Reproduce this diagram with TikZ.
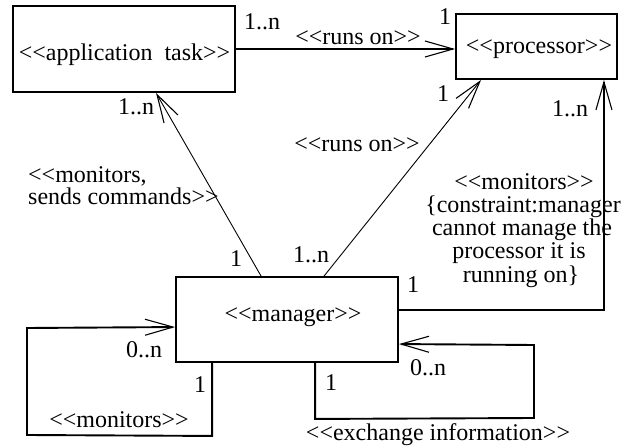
\documentclass[tikz,border=0pt]{standalone}
\usepackage{fontspec}
\newfontfamily\diafont{Liberation Serif}
\usetikzlibrary{arrows.meta,calc}
\newcommand{\dfs}{\diafont\fontsize{24}{23}\selectfont}
\tikzset{
  umlbox/.style={draw, line width=1.9pt, inner sep=0pt},
  lbl/.style={inner sep=0pt, anchor=base, font=\dfs},
  lblw/.style={inner sep=0pt, anchor=base west, font=\dfs},
  barb/.style={-{Straight Barb[length=28pt,width=16pt,line width=1.1pt]}},
  thinlink/.style={line width=0.9pt},
  thicklink/.style={line width=1.9pt},
}
\begin{document}
\begin{tikzpicture}[x=1pt,y=-1pt]
  \useasboundingbox (0,0) rectangle (632,446);

  % classes
  \node[umlbox, minimum width=222pt, minimum height=86pt] (app) at (124,49) {};
  \node[umlbox, minimum width=161pt, minimum height=65pt] (proc) at (536.5,46.5) {};
  \node[umlbox, minimum width=222pt, minimum height=85pt] (mgr) at (287,319.5) {};
  \node[lbl] (appT)  at (124.5,61) {<{}<application\ \ task>{}>};
  \node[lbl] (procT) at (539,54) {<{}<processor>{}>};
  \node[lbl] (mgrT)  at (293,322) {<{}<manager>{}>};

  % attachment points
  \coordinate (mApp)  at ($(mgr.north west)+(86,0)$);
  \coordinate (aBot)  at ($(app.south west)+(144,0)$);
  \coordinate (mProc) at ($(mgr.north west)+(149,0)$);
  \coordinate (pBot)  at ($(proc.south west)+(26,0)$);
  \coordinate (mRt)   at ($(mgr.north east)+(0,34)$);
  \coordinate (pRt)   at ($(proc.south east)+(-14,0)$);
  \coordinate (mLoopA) at ($(mgr.south west)+(37,0)$);
  \coordinate (mLoopB) at ($(mgr.north west)+(0,51)$);
  \coordinate (mExA)  at ($(mgr.south west)+(140,0)$);
  \coordinate (mExB)  at ($(mgr.north east)+(0,68)$);

  % associations
  \draw[barb, line width=1.8pt] (app.east) -- (app.east -| proc.west);
  \draw[barb, thinlink] (mApp) -- (aBot);
  \draw[barb, thinlink] (mProc) -- (pBot);
  \draw[barb, thicklink] (mRt) -- (mRt -| pRt) -- (pRt);
  \draw[barb, thicklink] (mLoopA) -- ++(0,73) -- (27,435) -- (27,328) -- (mLoopB);
  \draw[barb, thicklink] (mExA) -- ++(0,56) -- (534,418) -- (534,345) -- (mExB);

  % multiplicities
  \node[lbl] (m1)  at (262,30)  {1..n};
  \node[lbl] (m2)  at (445,25)  {1};
  \node[lbl] (m3)  at (136,115) {1..n};
  \node[lbl] (m4)  at (443,102) {1};
  \node[lbl] (m5)  at (570,117) {1..n};
  \node[lbl] (m6)  at (236,267) {1};
  \node[lbl] (m7)  at (311,263) {1..n};
  \node[lbl] (m8)  at (413,293) {1};
  \node[lbl] (m9)  at (144,358) {0..n};
  \node[lbl] (m10) at (200,392) {1};
  \node[lbl] (m11) at (428,375) {0..n};
  \node[lbl] (m12) at (331,390) {1};

  % stereotypes and constraint
  \node[lbl] (r1) at (358,45)  {<{}<runs on>{}>};
  \node[lbl] (r2) at (357,152) {<{}<runs on>{}>};
  \node[lblw] (monA) at (28,183) {<{}<monitors,};
  \node[lblw] (monB) at (28,205) {sends commands>{}>};
  \node[lbl] (c1) at (524,190) {<{}<monitors>{}>};
  \node[lbl] (c2) at (523,213) {\{constraint:manager};
  \node[lbl] (c3) at (522,236) {cannot manage the};
  \node[lbl] (c4) at (519,259) {processor it is};
  \node[lbl] (c5) at (521,283) {running on\}};
  \node[lbl] (mon2) at (119,427) {<{}<monitors>{}>};
  \node[lbl] (ex) at (438,440) {<{}<exchange information>{}>};
\end{tikzpicture}
\end{document}
